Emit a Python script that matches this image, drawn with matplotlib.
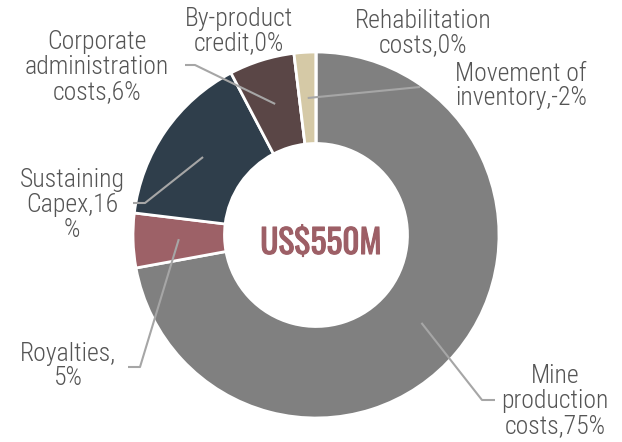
import numpy as np
import matplotlib
matplotlib.use("Agg")
import matplotlib.pyplot as plt
import matplotlib.patheffects as pe

# cost breakdown, clockwise from 12 o'clock
categories = ["Mine production costs", "Royalties", "Sustaining Capex",
              "Corporate administration costs", "By-product credit",
              "Movement of inventory", "Rehabilitation costs"]
shares = [75, 5, 16, 6, 0, -2, 0]
label_texts = ["Mine\nproduction\ncosts,75%", "Royalties,\n5%", "Sustaining\nCapex,16\n%",
               "Corporate\nadministration\ncosts,6%", "By-product\ncredit,0%",
               "Movement of\ninventory,-2%", "Rehabilitation\ncosts,0%"]
colors = ["#808080", "#9d6167", "#2f3e4b", "#5a4646", "#5a4646", "#d5c9a6", "#808080"]
total_label = "US$550M"

label_font = ["Roboto Condensed", "DejaVu Sans"]
title_font = ["Oswald", "Roboto Condensed", "DejaVu Sans"]

W, H = 622, 442
fig = plt.figure(figsize=(W / 100, H / 100), dpi=100)
ax = fig.add_axes([0, 0, 1, 1])

cx, cy, R = 316, H - 235, 183
wedges, _ = ax.pie(np.abs(shares), colors=colors, startangle=90, counterclock=False,
                   center=(cx, cy), radius=R, frame=True,
                   wedgeprops=dict(width=R * 0.5, edgecolor="white", linewidth=2))
ax.set_xlim(0, W)
ax.set_ylim(0, H)
ax.set_aspect("equal")
ax.axis("off")

# label anchor (text centre) and leader elbow points, in pixel layout coords (y from top)
text_pos = [(555, 401), (68, 366), (72, 205), (97, 67), (239, 31), (521, 86), (423, 33)]
elbows = [[(482, 400), (495, 400)], [(140, 367), (128, 367)], [(145, 203), (133, 203)],
          [(195, 65), (185, 65)], None, [(420, 87)], None]

for w, txt, pos, elb in zip(wedges, label_texts, text_pos, elbows):
    ax.text(pos[0], H - pos[1], txt, ha="center", va="center", fontsize=18.5,
            family=label_font, weight=300, color="#555555", linespacing=1.04)
    if elb is None:
        continue
    # leader starts in the middle of the ring at the wedge's mid angle
    mid = np.deg2rad((w.theta1 + w.theta2) / 2)
    sx, sy = cx + 0.75 * R * np.cos(mid), cy + 0.75 * R * np.sin(mid)
    xs = [sx] + [p[0] for p in elb]
    ys = [sy] + [H - p[1] for p in elb]
    ax.plot(xs, ys, color="#a6a6a6", lw=1.5, solid_capstyle="butt")

ax.text(321, H - 243, total_label, ha="center", va="center", fontsize=24,
        family=title_font, weight="bold", color="#9d5f66",
        path_effects=[pe.withStroke(linewidth=0.8, foreground="#9d5f66")])

fig.savefig("out.png", dpi=100)
